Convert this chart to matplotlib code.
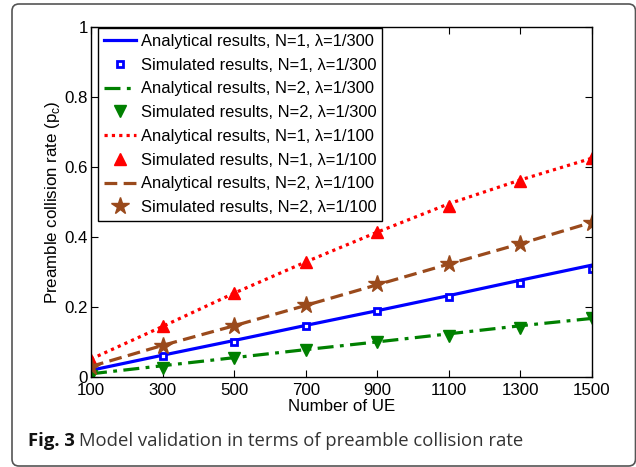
import matplotlib
matplotlib.use("Agg")
import matplotlib.pyplot as plt
from matplotlib.patches import FancyBboxPatch
from matplotlib.transforms import IdentityTransform

ue = [100, 300, 500, 700, 900, 1100, 1300, 1500]

ana_n1_300 = [0.020, 0.063, 0.105, 0.148, 0.190, 0.233, 0.277, 0.320]
sim_n1_300 = [0.020, 0.060, 0.100, 0.145, 0.190, 0.230, 0.270, 0.310]
ana_n2_300 = [0.010, 0.033, 0.056, 0.079, 0.101, 0.124, 0.147, 0.168]
sim_n2_300 = [0.005, 0.027, 0.055, 0.077, 0.100, 0.117, 0.140, 0.170]
ana_n1_100 = [0.052, 0.145, 0.240, 0.329, 0.414, 0.495, 0.563, 0.625]
sim_n1_100 = [0.050, 0.145, 0.240, 0.330, 0.415, 0.490, 0.560, 0.625]
ana_n2_100 = [0.031, 0.091, 0.147, 0.205, 0.264, 0.323, 0.381, 0.442]
sim_n2_100 = [0.030, 0.090, 0.145, 0.205, 0.265, 0.322, 0.380, 0.440]

xticks = [100, 300, 500, 700, 900, 1100, 1300, 1500]
yticks = [0, 0.2, 0.4, 0.6, 0.8, 1]
ytick_labels = ["0", "0.2", "0.4", "0.6", "0.8", "1"]

labels = [
    "Analytical results, N=1, \u03bb=1/300",
    "Simulated results, N=1, \u03bb=1/300",
    "Analytical results, N=2, \u03bb=1/300",
    "Simulated results, N=2, \u03bb=1/300",
    "Analytical results, N=1, \u03bb=1/100",
    "Simulated results, N=1, \u03bb=1/100",
    "Analytical results, N=2, \u03bb=1/100",
    "Simulated results, N=2, \u03bb=1/100",
]
caption_bold = "Fig. 3"
caption_rest = "Model validation in terms of preamble collision rate"

BLUE = "#0000FF"
GREEN = "#008000"
RED = "#FF0000"
BROWN = "#9A4A1C"

plt.rcParams["font.family"] = ["Liberation Sans", "DejaVu Sans"]
FS = 12.2

fig = plt.figure(figsize=(6.36, 4.67), dpi=100)
ax = fig.add_axes([91 / 636, 1 - 377.3 / 467, (592 - 91) / 636, (377.3 - 26.7) / 467])

lw = 2.3
ax.plot(ue, ana_n1_300, color=BLUE, lw=lw, ls="-", label=labels[0])
ax.plot(ue, sim_n1_300, color=BLUE, ls="none", marker="s", ms=5, mfc="white",
        mec=BLUE, mew=2.0, label=labels[1])
ax.plot(ue, ana_n2_300, color=GREEN, lw=lw, ls=(0, (5, 2, 1.2, 2)), label=labels[2])
ax.plot(ue, sim_n2_300, color=GREEN, ls="none", marker="v", ms=8, mfc=GREEN,
        mec=GREEN, label=labels[3])
ax.plot(ue, ana_n1_100, color=RED, lw=lw, ls=(0, (1, 1.3)), label=labels[4])
ax.plot(ue, sim_n1_100, color=RED, ls="none", marker="^", ms=9, mfc=RED,
        mec=RED, label=labels[5])
ax.plot(ue, ana_n2_100, color=BROWN, lw=lw, ls=(0, (4, 2)), label=labels[6])
ax.plot(ue, sim_n2_100, color=BROWN, ls="none", marker="*", ms=13, mfc=BROWN,
        mec=BROWN, label=labels[7])

ax.set_xlim(100, 1500)
ax.set_ylim(0, 1)
ax.set_xticks(xticks)
ax.set_xticklabels([str(t) for t in xticks])
ax.set_yticks(yticks)
ax.set_yticklabels(ytick_labels)
ax.tick_params(direction="in", top=True, right=True, length=5, width=0.8,
               labelsize=FS)
ax.tick_params(axis="x", pad=4)
ax.tick_params(axis="y", pad=2)
for s in ax.spines.values():
    s.set_linewidth(1.0)
ax.set_xlabel("Number of UE", fontsize=FS, labelpad=1)
ax.set_ylabel("Preamble collision rate (p$_\\mathregular{c}$)", fontsize=FS, labelpad=2)

leg = ax.legend(loc="upper left", bbox_to_anchor=(0.014, 0.996), fontsize=11.9,
                frameon=True, fancybox=False, edgecolor="black", framealpha=1,
                borderpad=0.35, labelspacing=0.53, handlelength=1.95,
                handletextpad=0.3, borderaxespad=0.0)
leg.get_frame().set_linewidth(1.0)

# caption
renderer = fig.canvas.get_renderer()
t1 = fig.text(28 / 636, 1 - 446 / 467, caption_bold, fontsize=13.3,
              fontweight="bold", family="Open Sans", color="#111111",
              va="baseline")
bb = t1.get_window_extent(renderer=renderer)
fig.text((bb.x1 + 4) / 636, 1 - 446 / 467, caption_rest, fontsize=13.3,
         family="Open Sans", color="#333333", va="baseline")

# rounded border
border = FancyBboxPatch((12, 1), 623.5, 462, boxstyle="round,pad=0,rounding_size=7",
                        transform=IdentityTransform(), fill=False,
                        edgecolor="#555555", lw=1.2)
fig.add_artist(border)

fig.savefig("out.png", dpi=100)
